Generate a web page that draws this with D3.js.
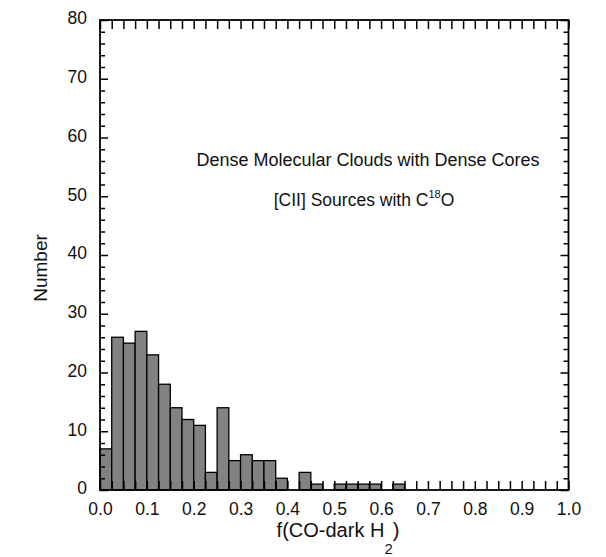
<!DOCTYPE html>
<html>
<head>
<meta charset="utf-8">
<script src="https://cdn.jsdelivr.net/npm/d3@7/dist/d3.min.js"></script>
<style>
  html, body { margin: 0; padding: 0; background: #fff; }
  svg { display: block; font-family: "Liberation Sans", Arial, Helvetica, sans-serif; }
  .axis text { fill: #111; font-size: 17.5px; }
  .axis line { stroke: #000; stroke-width: 1.5px; }
</style>
</head>
<body>
<svg id="chart" width="606" height="557"></svg>
<script>
// Histogram of CO-dark H2 fraction, bins of width 0.025 from 0 to 1
const binWidth = 0.025;
const counts = [
  7, 26, 25, 27, 23, 18, 14, 12, 11, 3,
  14, 5, 6, 5, 5, 2, 0, 3, 1, 0,
  1, 1, 1, 1, 0, 1, 0, 0, 0, 0,
  0, 0, 0, 0, 0, 0, 0, 0, 0, 0
];
const xTickLabels = ["0.0", "0.1", "0.2", "0.3", "0.4", "0.5", "0.6", "0.7", "0.8", "0.9", "1.0"];
const yTickLabels = ["0", "10", "20", "30", "40", "50", "60", "70", "80"];
const annotationLine1 = "Dense Molecular Clouds with Dense Cores";
const xTitle = "f(CO-dark H";
const yTitle = "Number";

const svg = d3.select("#chart");
const plotLeft = 100, plotRight = 568.5, plotTop = 20, plotBottom = 490;

const x = d3.scaleLinear().domain([0, 1]).range([plotLeft, plotRight]);
const y = d3.scaleLinear().domain([0, 80]).range([plotBottom, plotTop]);

const bins = counts.map((c, i) => ({ x0: i * binWidth, x1: (i + 1) * binWidth, count: c }));

// bars
svg.append("g")
  .selectAll("rect")
  .data(bins.filter(d => d.count > 0))
  .join("rect")
  .attr("x", d => x(d.x0))
  .attr("y", d => y(d.count))
  .attr("width", d => x(d.x1) - x(d.x0))
  .attr("height", d => y(0) - y(d.count))
  .attr("fill", "#828282")
  .attr("stroke", "#000")
  .attr("stroke-width", 1.3);

// x ticks every 0.025, labels every 0.1
const xTickVals = d3.range(0, 40.5).map(i => i * binWidth);
const xLabelFor = v => {
  const k = Math.round(v * 40);
  return k % 4 === 0 ? xTickLabels[k / 4] : "";
};

const xBottom = svg.append("g").attr("class", "axis")
  .attr("transform", `translate(0,${plotBottom})`)
  .call(d3.axisBottom(x).tickValues(xTickVals).tickSize(-9).tickPadding(12.5).tickFormat(xLabelFor));
xBottom.select(".domain").remove();

const xTopAxis = svg.append("g").attr("class", "axis")
  .attr("transform", `translate(0,${plotTop})`)
  .call(d3.axisTop(x).tickValues(xTickVals).tickSize(-9).tickFormat(""));
xTopAxis.select(".domain").remove();

// y ticks: minor every 2, major every 10
const yMinor = d3.range(0, 81, 2).filter(v => v % 10 !== 0);
const yMajor = d3.range(0, 81, 10);

const yLeftMinor = svg.append("g").attr("class", "axis")
  .attr("transform", `translate(${plotLeft},0)`)
  .call(d3.axisLeft(y).tickValues(yMinor).tickSize(-5).tickFormat(""));
yLeftMinor.select(".domain").remove();

const yLeftMajor = svg.append("g").attr("class", "axis")
  .attr("transform", `translate(${plotLeft},0)`)
  .call(d3.axisLeft(y).tickValues(yMajor).tickSize(-8).tickPadding(13)
    .tickFormat(v => yTickLabels[v / 10]));
yLeftMajor.select(".domain").remove();
yLeftMajor.selectAll("text").attr("dy", "0.22em");

const yRightMinor = svg.append("g").attr("class", "axis")
  .attr("transform", `translate(${plotRight},0)`)
  .call(d3.axisRight(y).tickValues(yMinor).tickSize(-5).tickFormat(""));
yRightMinor.select(".domain").remove();

const yRightMajor = svg.append("g").attr("class", "axis")
  .attr("transform", `translate(${plotRight},0)`)
  .call(d3.axisRight(y).tickValues(yMajor).tickSize(-8).tickFormat(""));
yRightMajor.select(".domain").remove();

// frame
svg.append("rect")
  .attr("x", plotLeft).attr("y", plotTop)
  .attr("width", plotRight - plotLeft).attr("height", plotBottom - plotTop)
  .attr("fill", "none").attr("stroke", "#000").attr("stroke-width", 1.8);

// annotation
svg.append("text")
  .attr("x", 368).attr("y", 166)
  .attr("text-anchor", "middle")
  .attr("font-size", "18px").attr("fill", "#111")
  .text(annotationLine1);

const note2 = svg.append("text")
  .attr("x", 364).attr("y", 206)
  .attr("text-anchor", "middle")
  .attr("font-size", "17.5px").attr("fill", "#111");
note2.append("tspan").text("[CII] Sources with C");
note2.append("tspan").attr("font-size", "11px").attr("dy", "-8").text("18");
note2.append("tspan").attr("dy", "8").text("O");

// axis titles
const xt = svg.append("text")
  .attr("x", 338).attr("y", 537)
  .attr("text-anchor", "middle")
  .attr("font-size", "20px").attr("fill", "#111");
xt.append("tspan").text(xTitle);
xt.append("tspan").attr("font-size", "15px").attr("dy", "17").text("2");
xt.append("tspan").attr("dy", "-17").text(")");

svg.append("text")
  .attr("transform", "translate(47,268) rotate(-90)")
  .attr("text-anchor", "middle")
  .attr("font-size", "19px").attr("fill", "#111")
  .text(yTitle);
</script>
</body>
</html>
